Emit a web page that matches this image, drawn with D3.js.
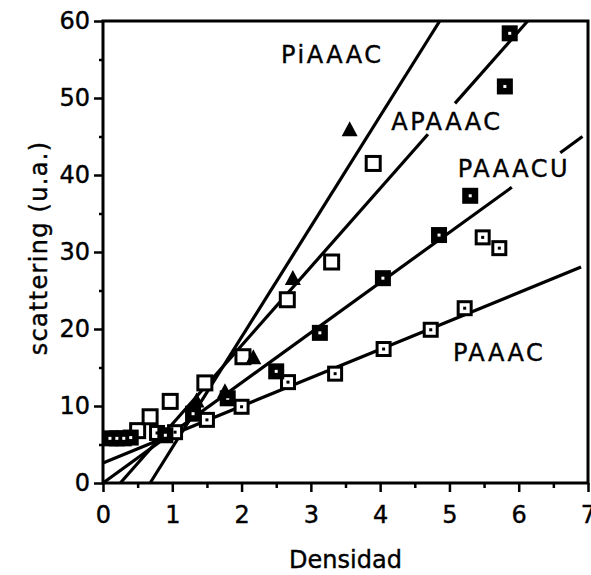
<!DOCTYPE html>
<html><head><meta charset="utf-8">
<script src="https://cdn.jsdelivr.net/npm/d3@7"></script>
<style>html,body{margin:0;padding:0;background:#fff;}svg{display:block;}</style>
</head><body>
<svg id="c" width="591" height="575"></svg>
<script>
// ---- data ----
const xTicks = [0,1,2,3,4,5,6,7];
const yTicks = [0,10,20,30,40,50,60];
const xTitle = "Densidad";
const yTitle = "scattering (u.a.)";
const seriesNames = ["PiAAAC","APAAAC","PAAACU","PAAAC"];
// fitted lines: [x1,y1,x2,y2] segments (gaps where labels sit)
const linePiAAAC = [[0.68,0,4.86,60]];
const lineAPAAAC = [[0.25,0,4.69,45.3],[5.08,49.3,6.13,60]];
const linePAAACU = [[0,0,5.9,38.4],[6.6,42.9,6.92,45]];
const linePAAAC  = [[0,2.6,6.9,28.05]];
// markers
const ptsTriangle = [[1.35,10.6],[1.76,11.8],[2.17,16.2],[2.74,26.5],[3.56,45.8]];
const ptsOpen = [[0.5,6.8],[0.68,8.6],[0.97,10.6],[1.47,13.0],[2.02,16.4],[2.66,23.8],[3.3,28.7],[3.9,41.5]];
const ptsOpenDot = [[0.78,6.5],[1.04,6.6],[1.5,8.2],[2.0,9.9],[2.67,13.1],[3.35,14.2],[4.05,17.4],[4.73,19.9],[5.22,22.7],[5.48,31.9],[5.72,30.5]];
const ptsFilledDot = [[0.1,5.8],[0.2,5.8],[0.3,5.8],[0.4,5.9],[0.9,6.2],[1.3,9.0],[1.8,11.0],[2.5,14.5],[3.13,19.5],[4.04,26.6],[4.85,32.2],[5.3,37.3],[5.8,51.5],[5.87,58.4]];

// ---- layout ----
const svg = d3.select("#c");
const x = d3.scaleLinear().domain([0,7]).range([103,588]);
const y = d3.scaleLinear().domain([0,60]).range([483,21]);
const font = "'DejaVu Sans', Verdana, sans-serif";

// frame
svg.append("rect").attr("x",x(0)).attr("y",y(60)).attr("width",x(7)-x(0)).attr("height",y(0)-y(60))
  .attr("fill","none").attr("stroke","#000").attr("stroke-width",3);

// axes
const xMinor = d3.range(0.5,7,1);
const yMinor = d3.range(5,60,10);
svg.append("g").attr("transform",`translate(0,${y(0)})`)
  .call(d3.axisBottom(x).tickValues(xTicks).tickSize(9).tickPadding(14).tickFormat(d3.format("d")));
svg.append("g").attr("transform",`translate(0,${y(0)})`)
  .call(d3.axisBottom(x).tickValues(xMinor).tickSize(5).tickFormat(""));
svg.append("g").attr("transform",`translate(${x(0)},0)`)
  .call(d3.axisLeft(y).tickValues(yTicks).tickSize(9).tickPadding(4).tickFormat(d3.format("d")));
svg.append("g").attr("transform",`translate(${x(0)},0)`)
  .call(d3.axisLeft(y).tickValues(yMinor).tickSize(4).tickFormat(""));
svg.selectAll(".domain").remove();
svg.selectAll(".tick line").attr("stroke","#000").attr("stroke-width",2.5);
svg.selectAll(".tick text").attr("font-family",font).attr("font-size",24).attr("fill","#000")
  .attr("stroke","#000").attr("stroke-width",0.4);

// titles
svg.append("text").attr("x",(x(0)+x(7))/2).attr("y",568).attr("text-anchor","middle")
  .attr("font-family",font).attr("font-size",24).attr("stroke","#000").attr("stroke-width",0.4).text(xTitle);
svg.append("text").attr("transform",`translate(47,248) rotate(-90)`).attr("text-anchor","middle")
  .attr("font-family",font).attr("font-size",24).attr("letter-spacing",1.3)
  .attr("stroke","#000").attr("stroke-width",0.4).text(yTitle);

// lines
const g = svg.append("g");
[linePiAAAC,lineAPAAAC,linePAAACU,linePAAAC].forEach(segs=>{
  g.selectAll(null).data(segs).enter().append("line")
    .attr("x1",d=>x(d[0])).attr("y1",d=>y(d[1])).attr("x2",d=>x(d[2])).attr("y2",d=>y(d[3]))
    .attr("stroke","#000").attr("stroke-width",3.2);
});

// markers
const m = svg.append("g");
m.selectAll(null).data(ptsOpen).enter().append("rect")
  .attr("x",d=>x(d[0])-7).attr("y",d=>y(d[1])-7).attr("width",14).attr("height",14)
  .attr("fill","#fff").attr("stroke","#000").attr("stroke-width",3);
m.selectAll(null).data(ptsOpenDot).enter().append("rect")
  .attr("x",d=>x(d[0])-6.5).attr("y",d=>y(d[1])-6.5).attr("width",13).attr("height",13)
  .attr("fill","#fff").attr("stroke","#000").attr("stroke-width",3);
m.selectAll(null).data(ptsOpenDot).enter().append("rect")
  .attr("x",d=>x(d[0])-1.5).attr("y",d=>y(d[1])-1.5).attr("width",3).attr("height",3).attr("fill","#000");
m.selectAll(null).data(ptsFilledDot).enter().append("rect")
  .attr("x",d=>x(d[0])-8).attr("y",d=>y(d[1])-8).attr("width",16).attr("height",16).attr("fill","#000");
m.selectAll(null).data(ptsFilledDot).enter().append("rect")
  .attr("x",d=>x(d[0])-1.5).attr("y",d=>y(d[1])-1.5).attr("width",3).attr("height",3).attr("fill","#fff");
m.selectAll(null).data(ptsTriangle).enter().append("path")
  .attr("d",d=>{const cx=x(d[0]),cy=y(d[1]);return `M${cx},${cy-9}L${cx+8},${cy+6}L${cx-8},${cy+6}Z`;})
  .attr("fill","#000");

// series labels
const labelAnchor = {PiAAAC:[2.57,54.6],APAAAC:[4.16,45.9],PAAACU:[5.12,39.8],PAAAC:[5.05,15.8]};
svg.selectAll(null).data(seriesNames).enter().append("text")
  .attr("x",d=>x(labelAnchor[d][0])).attr("y",d=>y(labelAnchor[d][1]))
  .attr("font-family",font).attr("font-size",24).attr("letter-spacing",2.5)
  .attr("stroke","#000").attr("stroke-width",0.4).text(d=>d);
</script>
</body></html>
